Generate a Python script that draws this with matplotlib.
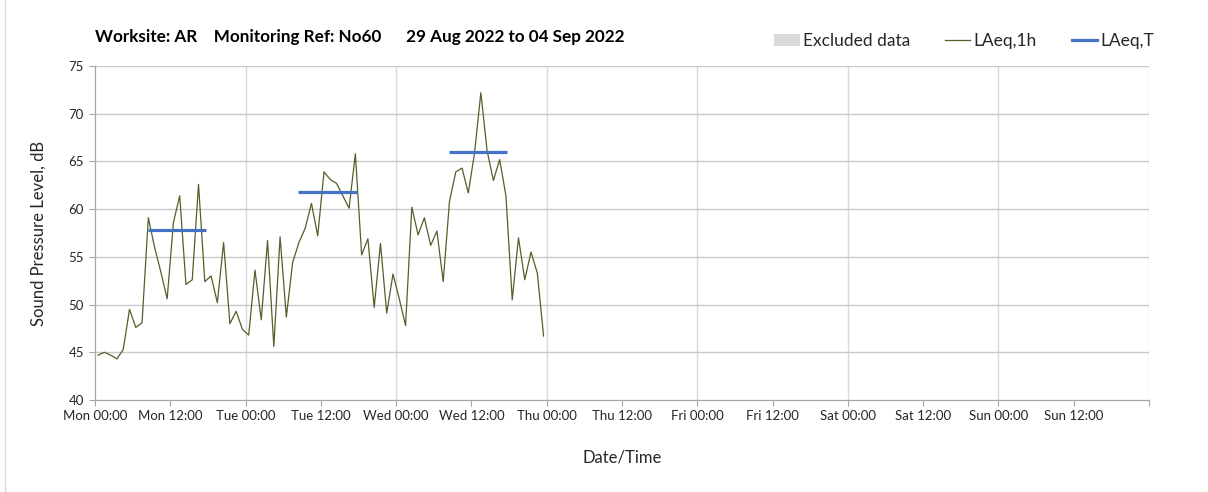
import matplotlib
matplotlib.use("Agg")
import matplotlib.pyplot as plt
from matplotlib.lines import Line2D
from matplotlib.patches import Patch

plt.rcParams['font.family'] = ['Lato', 'DejaVu Sans']

# Hourly LAeq,1h values (hours after Mon 00:00, centred on half hour)
hours = [k + 0.5 for k in range(72)]
laeq_1h = [
    44.7, 45.0, 44.7, 44.3, 45.3, 49.5, 47.6, 48.1, 59.1, 56.0,
    53.4, 50.6, 58.6, 61.4, 52.1, 52.6, 62.6, 52.4, 53.0, 50.2,
    56.5, 48.0, 49.3, 47.4, 46.8, 53.6, 48.4, 56.7, 45.6, 57.1,
    48.7, 54.4, 56.5, 58.0, 60.6, 57.2, 63.9, 63.1, 62.7, 61.4,
    60.1, 65.8, 55.2, 56.9, 49.7, 56.4, 49.1, 53.2, 50.6, 47.8,
    60.2, 57.3, 59.1, 56.2, 57.7, 52.4, 60.8, 63.9, 64.3, 61.7,
    65.9, 72.2, 66.1, 63.0, 65.2, 61.4, 50.5, 57.0, 52.6, 55.5,
    53.3, 46.7,
]

# LAeq,T periods (start hour, end hour, level)
period_start = [8.4, 32.4, 56.4]
period_end = [17.7, 41.8, 65.6]
laeq_t = [57.8, 61.8, 66.0]

x_tick_labels = [
    "Mon 00:00", "Mon 12:00", "Tue 00:00", "Tue 12:00", "Wed 00:00", "Wed 12:00",
    "Thu 00:00", "Thu 12:00", "Fri 00:00", "Fri 12:00", "Sat 00:00", "Sat 12:00",
    "Sun 00:00", "Sun 12:00",
]
y_ticks = [40, 45, 50, 55, 60, 65, 70, 75]

title = "Worksite: AR    Monitoring Ref: No60      29 Aug 2022 to 04 Sep 2022"

W, H = 1208, 492
fig = plt.figure(figsize=(W / 100, H / 100), dpi=100)
ax = fig.add_axes([95 / W, 1 - 400 / H, (1149 - 95) / W, (400 - 66) / H])

line_green = "#4F6228"
blue = "#4472C4"
grid_h = "#C8C8C8"
grid_v = "#D9D9D9"
spine_c = "#A6A6A6"

ax.set_xlim(0, 7 * 24)
ax.set_ylim(40, 75)

for d in range(1, 8):
    ax.axvline(d * 24, color=grid_v, lw=1.0, zorder=0)
for y in y_ticks[1:]:
    ax.axhline(y, color=grid_h, lw=1.0, zorder=0)

ax.plot(hours, laeq_1h, color=line_green, lw=0.9, zorder=3)
ax.hlines(laeq_t, period_start, period_end, color=blue, lw=2.3, zorder=4)

ax.set_xticks([12 * i for i in range(len(x_tick_labels) + 1)])
ax.set_xticklabels(x_tick_labels + [""])
ax.set_yticks(y_ticks)
ax.set_yticklabels([str(v) for v in y_ticks])
ax.tick_params(axis='both', direction='out', length=4, width=0.8, color=spine_c,
               labelsize=9.5, labelcolor="#262626")
ax.tick_params(axis='x', pad=3)
ax.tick_params(axis='y', pad=4)

for s in ['top', 'right']:
    ax.spines[s].set_visible(False)
for s in ['left', 'bottom']:
    ax.spines[s].set_color(spine_c)
    ax.spines[s].set_linewidth(0.9)

ax.set_ylabel("Sound Pressure Level, dB", fontsize=12, color="#262626", labelpad=16)
ax.set_xlabel("Date/Time", fontsize=12, color="#262626", labelpad=20)

fig.text(95 / W, 1 - 37 / H, title, fontsize=12.3, fontweight='bold', color="#000000",
         ha='left', va='center')

handles = [
    Patch(facecolor="#D9D9D9", edgecolor="none", label="Excluded data"),
    Line2D([], [], color=line_green, lw=0.9, label="LAeq,1h"),
    Line2D([], [], color=blue, lw=2.3, label="LAeq,T"),
]
fig.legend(handles=handles, loc='center right', bbox_to_anchor=(1154 / W, 1 - 41 / H),
           ncol=3, frameon=False, fontsize=12.5, handlelength=1.45, handletextpad=0.2,
           columnspacing=2.0, labelcolor="#262626", borderaxespad=0, borderpad=0)

# outer chart frame (left edge)
fig.add_artist(Line2D([5 / W, 5 / W], [0, 1], color="#D9D9D9", lw=1.0))

fig.savefig("out.png", dpi=100, facecolor="white")
